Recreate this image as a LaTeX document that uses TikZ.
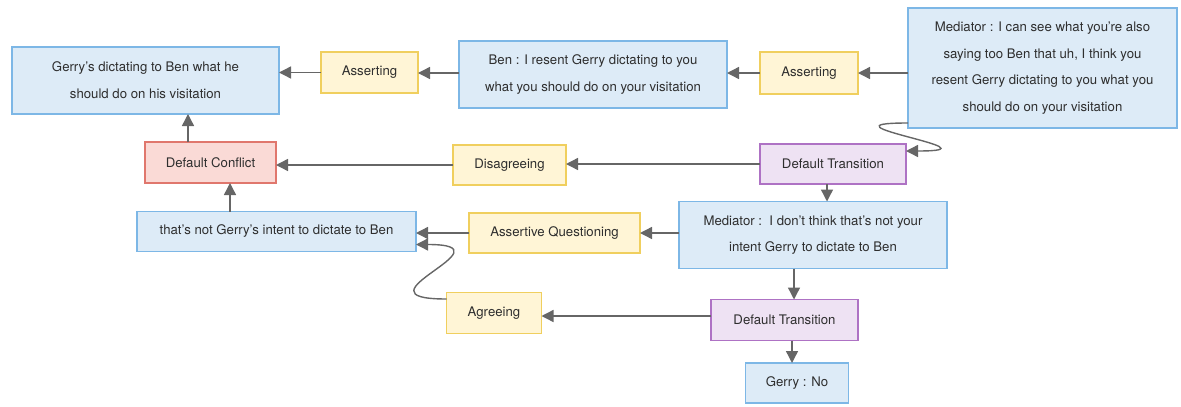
\documentclass[tikz,border=0pt]{standalone}
\usepackage{fontspec}
\setmainfont{TeX Gyre Heros}
\usetikzlibrary{arrows.meta}

\definecolor{uttfill}{HTML}{DDEBF7}
\definecolor{uttline}{HTML}{7DB7E6}
\definecolor{actfill}{HTML}{FFF5D6}
\definecolor{actline}{HTML}{F0CF5E}
\definecolor{cnffill}{HTML}{FADAD6}
\definecolor{cnfline}{HTML}{E0776D}
\definecolor{trnfill}{HTML}{EEE2F3}
\definecolor{trnline}{HTML}{AE72C4}
\definecolor{arrgray}{HTML}{666666}
\definecolor{txtgray}{HTML}{2E2E2E}

\begin{document}
\begin{tikzpicture}[x=1pt, y=-1pt,
  box/.style={draw, line width=1.5pt, inner sep=0pt, outer sep=0pt, align=center,
    text=txtgray, font=\fontsize{13.2}{26.7}\selectfont},
  utter/.style={box, fill=uttfill, draw=uttline},
  act/.style={box, fill=actfill, draw=actline},
  conflict/.style={box, fill=cnffill, draw=cnfline},
  trans/.style={box, fill=trnfill, draw=trnline},
  arr/.style={draw=arrgray, line width=1.4pt, -{Triangle[length=12pt, width=12pt]}}]
  \useasboundingbox (0,0) rectangle (1181,407);

  % top row
  \node[utter, minimum width=267pt, minimum height=67pt] (dictating) at (145.5,80.5) {Gerry's dictating to Ben what he\\should do on his visitation};
  \node[act, minimum width=97pt, minimum height=41pt] (assert1) at (369.5,72.5) {Asserting};
  \node[utter, minimum width=268pt, minimum height=67pt] (ben) at (593,74.5) {Ben : I resent Gerry dictating to you\\what you should do on your visitation};
  \node[act, minimum width=98pt, minimum height=42pt] (assert2) at (809,73) {Asserting};
  \node[utter, minimum width=269pt, minimum height=120pt] (med1) at (1042.5,68) {Mediator : I can see what you're also\\saying too Ben that uh, I think you\\resent Gerry dictating to you what you\\should do on your visitation};

  % middle rows
  \node[conflict, minimum width=131pt, minimum height=41pt] (conf) at (210.5,162.5) {Default Conflict};
  \node[act, minimum width=113pt, minimum height=40pt] (disagree) at (509.5,165) {Disagreeing};
  \node[trans, minimum width=146pt, minimum height=40pt] (trans1) at (833,164) {Default Transition};
  \node[utter, minimum width=279pt, minimum height=40pt] (intent) at (276.5,231.5) {that's not Gerry's intent to dictate to Ben};
  \node[act, minimum width=171pt, minimum height=40pt] (asq) at (554.5,233) {Assertive Questioning};
  \node[utter, minimum width=268pt, minimum height=67pt] (med2) at (813,235) {Mediator :\ \ I don't think that's not your\\intent Gerry to dictate to Ben};

  % bottom rows
  \node[act, minimum width=95pt, minimum height=41pt] (agree) at (494,313) {Agreeing};
  \node[trans, minimum width=147pt, minimum height=41pt] (trans2) at (784.5,320) {Default Transition};
  \node[utter, minimum width=103pt, minimum height=40pt] (no) at (797,383) {Gerry : No};

  % connectors
  \draw[arr] (assert1.west) -- (dictating.east |- assert1.west);
  \draw[arr] (ben.west |- 0,73) -- (assert1.east |- 0,73);
  \draw[arr] (assert2.west) -- (ben.east |- assert2.west);
  \draw[arr] (med1.west |- assert2) -- (assert2.east);
  \draw[arr] ([yshift=5pt]med1.south west) .. controls +(-100,0) and +(100,0) .. ([yshift=13pt]trans1.east);
  \draw[arr] (trans1.west) -- (disagree.east |- trans1.west);
  \draw[arr] (disagree.west) -- (conf.east |- disagree.west);
  \draw[arr] ([xshift=-22.5pt]conf.north) -- ([xshift=-22.5pt]conf.north |- dictating.south);
  \draw[arr] ([xshift=-46.5pt]intent.north) -- ([xshift=-46.5pt]intent.north |- conf.south);
  \draw[arr] ([xshift=-6pt]trans1.south) -- ([xshift=-6pt]trans1.south |- med2.north);
  \draw[arr] (med2.west |- asq) -- (asq.east);
  \draw[arr] (asq.west) -- (intent.east |- asq.west);
  \draw[arr] ([xshift=-19pt]med2.south) -- ([xshift=-19pt]med2.south |- trans2.north);
  \draw[arr] ([xshift=7.5pt]trans2.south) -- ([xshift=7.5pt]trans2.south |- no.north);
  \draw[arr] ([yshift=4pt]trans2.west) -- (agree.east |- 0,316);
  \draw[arr] ([yshift=14pt]agree.west) .. controls +(-100,0) and +(100,0) .. ([yshift=-13pt]intent.east);
\end{tikzpicture}
\end{document}
